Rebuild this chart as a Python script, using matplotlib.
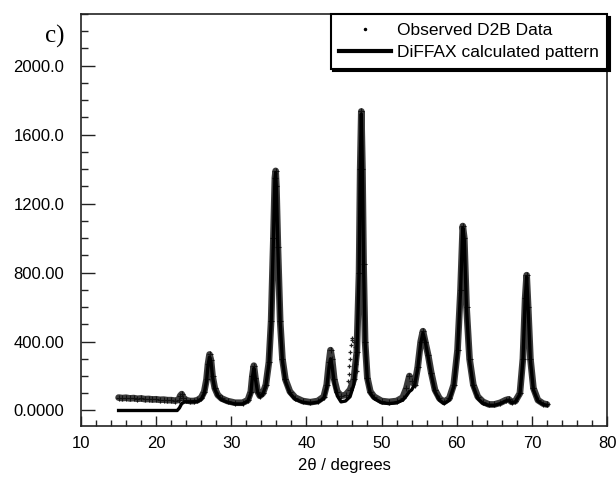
import matplotlib
matplotlib.use("Agg")
import matplotlib.pyplot as plt
from matplotlib.ticker import MultipleLocator, FixedLocator, FixedFormatter
from matplotlib.lines import Line2D

obs_tt = [15.0, 15.5, 16.0, 16.5, 17.0, 17.5, 18.0, 18.5, 19.0, 19.5, 20.0, 20.5, 21.0,
          21.5, 22.0, 22.5, 23.0, 23.2, 23.4, 23.6, 24.0, 24.5, 25.0, 25.5, 26.0, 26.4,
          26.7, 26.9, 27.1, 27.3, 27.5, 27.8, 28.2, 28.7, 29.5, 30.5, 31.5, 32.2, 32.6,
          32.8, 33.0, 33.2, 33.5, 33.8, 34.2, 34.6, 35.0, 35.3, 35.6, 35.8, 35.9, 36.0,
          36.2, 36.5, 36.8, 37.2, 37.8, 38.5, 39.5, 40.5, 41.5, 42.3, 42.7, 43.0, 43.2,
          43.4, 43.7, 44.1, 44.6, 45.2, 45.8, 46.3, 46.7, 47.0, 47.15, 47.3,
          47.45, 47.6, 47.8, 48.1, 48.5, 49.0, 50.0, 51.0, 52.0, 52.8, 53.3, 53.7, 54.0, 54.4,
          54.8, 55.2, 55.5, 55.8, 56.2, 56.6, 57.1, 57.7, 58.3, 59.0, 59.6, 60.1, 60.5,
          60.8, 61.0, 61.3, 61.7, 62.2, 62.8, 63.5, 64.3, 65.0, 65.8, 66.5, 66.9, 67.3,
          67.8, 68.4, 68.8, 69.1, 69.3, 69.5, 69.8, 70.2, 70.8, 71.5, 72.0]
obs_int = [75, 72, 74, 70, 72, 68, 70, 66, 67, 64, 65, 62, 63,
           60, 60, 57, 62, 85, 95, 75, 60, 55, 55, 60, 75, 110,
           180, 270, 325, 290, 200, 130, 90, 70, 55, 45, 45, 60, 110,
           200, 260, 190, 110, 85, 100, 150, 280, 520, 1000, 1350, 1390, 1300,
           950, 520, 300, 180, 110, 75, 55, 48, 55, 80, 150, 280, 350,
           300, 180, 110, 85, 90, 120, 180, 340, 800, 1400, 1735,
           1400, 850, 400, 190, 110, 80, 55, 50, 55, 75, 130, 200, 170, 150,
           250, 400, 460, 400, 320, 220, 120, 70, 50, 70, 150, 350, 700,
           1070, 1000, 600, 300, 150, 80, 50, 35, 35, 45, 60, 65, 50,
           55, 100, 300, 650, 785, 600, 300, 130, 60, 40, 35]

# sparse observed points between 45 and 47 degrees (diffuse scattering)
sparse_tt = [45.5, 45.6, 45.7, 45.75, 45.8, 45.9, 46.0, 46.1, 46.3, 46.5, 46.6, 46.65, 46.7]
sparse_int = [170, 210, 260, 300, 340, 380, 410, 420, 400, 370, 320, 270, 230]

# DiFFAX calculated pattern
calc_tt = [15.0, 22.8, 23.1, 23.4, 23.8, 24.5, 25.5, 26.0, 26.4, 26.7, 26.9, 27.1, 27.3,
           27.5, 27.8, 28.2, 28.7, 29.5, 30.5, 31.5, 32.2, 32.6, 32.8, 33.0, 33.2, 33.5,
           33.8, 34.2, 34.6, 35.0, 35.3, 35.6, 35.8, 35.9, 36.0, 36.2, 36.5, 36.8, 37.2,
           37.8, 38.5, 39.5, 40.5, 41.5, 42.3, 42.7, 43.0, 43.2, 43.4, 43.7, 44.1, 44.6,
           45.2, 45.8, 46.3, 46.7, 47.0, 47.15, 47.3, 47.45, 47.6, 47.8, 48.1, 48.5, 49.0,
           50.0, 51.0, 52.0, 52.8, 53.3, 53.7, 54.0, 54.4, 54.8, 55.2, 55.5, 55.8, 56.2,
           56.6, 57.1, 57.7, 58.3, 59.0, 59.6, 60.1, 60.5, 60.8, 61.0, 61.3, 61.7, 62.2,
           62.8, 63.5, 64.3, 65.0, 65.8, 66.5, 66.9, 67.3, 67.8, 68.4, 68.8, 69.1, 69.3,
           69.5, 69.8, 70.2, 70.8, 71.5, 72.0]
calc_int = [0, 0, 15, 40, 50, 50, 52, 65, 100, 170, 260, 310, 280,
            195, 125, 85, 62, 48, 38, 38, 55, 100, 190, 245, 185, 105,
            80, 95, 145, 270, 510, 990, 1340, 1380, 1290, 940, 510, 290, 170,
            100, 65, 48, 42, 48, 70, 135, 250, 300, 260, 160, 85, 50,
            55, 80, 150, 320, 800, 1400, 1720, 1400, 850, 400, 180, 100, 70,
            45, 40, 45, 60, 85, 110, 120, 150, 240, 390, 450, 400, 310,
            210, 110, 60, 40, 60, 140, 340, 690, 1060, 990, 590, 290, 140,
            70, 40, 30, 30, 40, 55, 60, 45, 50, 95, 290, 640, 775, 590, 290,
            120, 55, 35, 30]

# Axis labels and ticks
y_ticks = [0, 400, 800, 1200, 1600, 2000]
y_tick_labels = ["0.0000", "400.00", "800.00", "1200.0", "1600.0", "2000.0"]
x_ticks = [10, 20, 30, 40, 50, 60, 70, 80]
x_label = "2θ / degrees"
legend_labels = ["Observed D2B Data", "DiFFAX calculated pattern"]
panel_label = "c)"

plt.rcParams["font.family"] = ["Liberation Sans", "DejaVu Sans"]

fig = plt.figure(figsize=(6.16, 4.83), dpi=100)
ax = fig.add_axes([0.1315, 0.118, 0.854, 0.853])

# observed: thick noisy band of points
ax.plot(obs_tt, obs_int, color="#3c3c3c", lw=4.8, solid_joinstyle="round",
        solid_capstyle="round", zorder=2)
ax.plot(obs_tt, obs_int, linestyle="none", marker="+", ms=4, mew=0.8,
        color="#111111", zorder=3)
ax.plot(sparse_tt, sparse_int, linestyle="none", marker="+", ms=3.5, mew=0.9,
        color="#222222", zorder=3)
# calculated
ax.plot(calc_tt, calc_int, color="black", lw=2.4, zorder=4)

ax.set_xlim(10, 80)
ax.set_ylim(-90, 2300)

ax.xaxis.set_major_locator(FixedLocator(x_ticks))
ax.xaxis.set_minor_locator(MultipleLocator(2))
ax.yaxis.set_major_locator(FixedLocator(y_ticks))
ax.yaxis.set_major_formatter(FixedFormatter(y_tick_labels))
ax.yaxis.set_minor_locator(MultipleLocator(100))

ax.tick_params(axis="both", which="both", direction="in", top=False, right=False,
               labelsize=12, color="#222222")
ax.tick_params(axis="y", which="major", length=10, width=1.0, pad=12)
ax.tick_params(axis="y", which="minor", length=5, width=1.0)
ax.tick_params(axis="x", which="major", length=7, width=1.0, pad=7)
ax.tick_params(axis="x", which="minor", length=4, width=1.0)
for s in ax.spines.values():
    s.set_linewidth(1.2)
    s.set_color("#222222")

ax.set_xlabel(x_label, fontsize=12, labelpad=5)

# legend
h_obs = Line2D([], [], linestyle="none", marker=".", ms=3, color="black")
h_calc = Line2D([], [], color="black", lw=3)
leg = ax.legend([h_obs, h_calc], legend_labels, loc="upper right",
                bbox_to_anchor=(1.0, 1.0), borderaxespad=0.0, fontsize=12.5,
                frameon=True, fancybox=False, handlelength=3.0,
                handletextpad=0.3, borderpad=0.5, labelspacing=0.4,
                shadow={"color": "black", "alpha": 1.0})
leg.get_frame().set_edgecolor("black")
leg.get_frame().set_linewidth(1.5)

fig.text(0.073, 0.925, panel_label, family="Liberation Serif", fontsize=18,
         ha="left", va="center")

fig.savefig("out.png", dpi=100)
